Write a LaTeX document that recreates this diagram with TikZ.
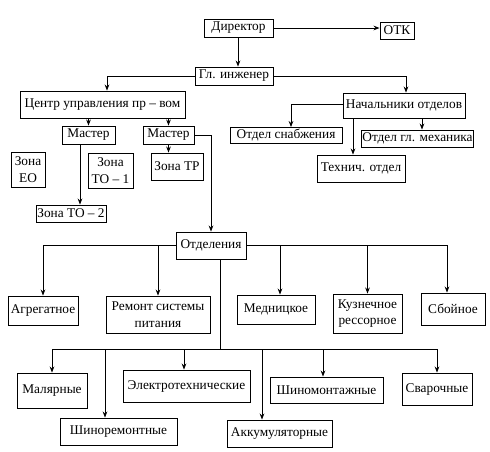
\documentclass[tikz,border=0pt]{standalone}
\usepackage{fontspec}
\setmainfont{Liberation Serif}
\usetikzlibrary{arrows.meta,calc}
\begin{document}
\begin{tikzpicture}[x=0.75pt,y=-0.75pt,
  box/.style={draw,line width=0.7pt,inner sep=0.5pt,align=center,font=\fontsize{10}{12.5}\selectfont},
  con/.style={line width=0.7pt},
  arr/.style={con,-{Stealth[length=4.5pt,width=3.5pt]}}]
\useasboundingbox (0,0) rectangle (490,451);
% top
\node[box,minimum width=69*0.75pt,minimum height=18*0.75pt] (dir) at (238.5,28) {Директор};
\node[box,minimum width=34*0.75pt,minimum height=17*0.75pt] (otk) at (397,30.5) {ОТК};
\node[box,minimum width=78*0.75pt,minimum height=18*0.75pt] (gi) at (234,76) {Гл. инженер};
\node[box,minimum width=165*0.75pt,minimum height=27*0.75pt] (cen) at (102.5,104.5) {Центр управления пр – вом};
\node[box,minimum width=122*0.75pt,minimum height=25*0.75pt] (nach) at (404,105.5) {Начальники отделов};
% left branch
\node[box,minimum width=53*0.75pt,minimum height=18*0.75pt] (m1) at (88.5,135) {Мастер};
\node[box,minimum width=51*0.75pt,minimum height=18*0.75pt] (m2) at (168.5,135) {Мастер};
\node[box,minimum width=34*0.75pt,minimum height=35*0.75pt] (zeo) at (28,169.5) {Зона\\ЕО};
\node[box,minimum width=45*0.75pt,minimum height=35*0.75pt] (zto1) at (110.5,170.5) {Зона\\ТО – 1};
\node[box,minimum width=52*0.75pt,minimum height=27*0.75pt] (ztr) at (177,166.5) {Зона ТР};
\node[box,minimum width=70*0.75pt,minimum height=17*0.75pt] (zto2) at (71,213.5) {Зона ТО – 2};
% right branch
\node[box,minimum width=112*0.75pt,minimum height=16*0.75pt] (snab) at (286,135.5) {Отдел снабжения};
\node[box,minimum width=111*0.75pt,minimum height=17*0.75pt] (mech) at (417.5,138.5) {Отдел гл. механика};
\node[box,minimum width=88*0.75pt,minimum height=27*0.75pt] (tech) at (361,168.5) {Технич. отдел};
% departments
\node[box,minimum width=70*0.75pt,minimum height=27*0.75pt] (otd) at (211,245.5) {Отделения};
\node[box,minimum width=70*0.75pt,minimum height=29*0.75pt] (agr) at (43,310.5) {Агрегатное};
\node[box,minimum width=104*0.75pt,minimum height=37*0.75pt] (rem) at (158,314.5) {Ремонт системы\\питания};
\node[box,minimum width=78*0.75pt,minimum height=29*0.75pt] (med) at (276,309.5) {Медницкое};
\node[box,minimum width=69*0.75pt,minimum height=39*0.75pt] (kuz) at (367.5,313.5) {Кузнечное\\рессорное};
\node[box,minimum width=64*0.75pt,minimum height=32*0.75pt] (sboy) at (453,309) {Сбойное};
\node[box,minimum width=70*0.75pt,minimum height=35*0.75pt] (mal) at (52,390.5) {Малярные};
\node[box,minimum width=117*0.75pt,minimum height=27*0.75pt] (shr) at (118.5,431.5) {Шиноремонтные};
\node[box,minimum width=127*0.75pt,minimum height=32*0.75pt] (el) at (186.5,386) {Электротехнические};
\node[box,minimum width=105*0.75pt,minimum height=27*0.75pt] (akk) at (279.5,433.5) {Аккумуляторные};
\node[box,minimum width=113*0.75pt,minimum height=26*0.75pt] (shm) at (326.5,390) {Шиномонтажные};
\node[box,minimum width=70*0.75pt,minimum height=32*0.75pt] (sv) at (437,389) {Сварочные};
% connector helper coordinates
\coordinate (gidn) at (238,0);
\coordinate (cenin) at (107,0);
\coordinate (nachin) at (406,0);
\coordinate (sn) at (291,0);
\coordinate (te) at (353,0);
\coordinate (me) at (422,0);
\coordinate (mz) at (80,0);
\coordinate (otdin) at (211,0);
\coordinate (sb) at (447,0);
\coordinate (mdin) at (280,0);
\coordinate (dn) at (220,0);
\coordinate (bus) at (220,349);
\coordinate (shrin) at (105,0);
\coordinate (elin) at (184,0);
\coordinate (akkin) at (262,0);
\coordinate (shmin) at (323,0);
% connectors
\draw[arr] (dir.east) -- (dir.east -| otk.west);
\draw[arr] (gidn |- dir.south) -- (gidn |- gi.north);
\draw[arr] (gi.west) -| (cenin |- cen.north);
\draw[arr] (gi.east) -| (nachin |- nach.north);
\draw[arr] (m1.north |- cen.south) -- (m1.north);
\draw[arr] (m2.north |- cen.south) -- (m2.north);
\draw[arr] (mz |- m1.south) -- (mz |- zto2.north);
\draw[arr] (m2.south) -- (m2.south |- ztr.north);
\draw[arr] (m2.east) -| (otdin |- otd.north);
\draw[arr] ([yshift=0.9pt]nach.west) -| (sn |- snab.north);
\draw[arr] (te |- nach.south) -- (te |- tech.north);
\draw[arr] (me |- nach.south) -- (me |- mech.north);
\draw[arr] (otd.west) -| (agr.north);
\draw[arr] (rem.north |- otd.west) -- (rem.north);
\draw[arr] (otd.east) -| (sb |- sboy.north);
\draw[arr] (mdin |- otd.east) -- (mdin |- med.north);
\draw[arr] (kuz.north |- otd.east) -- (kuz.north);
\draw[con] (dn |- otd.south) -- (bus);
\draw[arr] (bus) -| (mal.north);
\draw[arr] (bus) -| (sv.north);
\draw[arr] (shrin |- bus) -- (shrin |- shr.north);
\draw[arr] (elin |- bus) -- (elin |- el.north);
\draw[arr] (akkin |- bus) -- (akkin |- akk.north);
\draw[arr] (shmin |- bus) -- (shmin |- shm.north);
\end{tikzpicture}
\end{document}
